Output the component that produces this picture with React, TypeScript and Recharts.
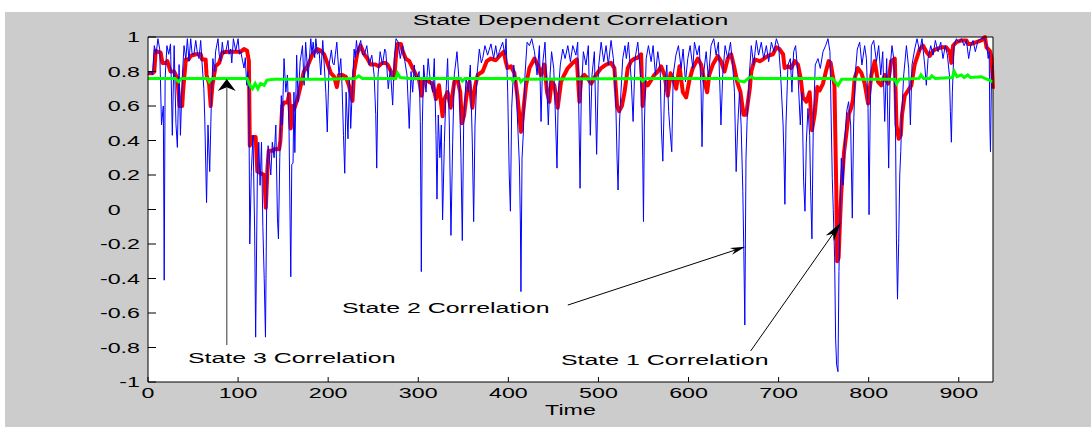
import React from 'react';
import { LineChart, Line, XAxis, YAxis, CartesianGrid, ReferenceLine } from 'recharts';

// ---------- data (time, correlation) ----------
const xTicks = [0, 100, 200, 300, 400, 500, 600, 700, 800, 900];
const yTicks = [-1, -0.8, -0.6, -0.4, -0.2, 0, 0.2, 0.4, 0.6, 0.8, 1];

// State 1 (blue, thin, noisy)
const state1: [number, number][] = [
  [0,0.78],[3,0.8],[5,0.78],[7,0.95],[9,0.9],[11,0.99],[13,0.93],[15,0.49],[17,0.6],[18,-0.41],[19,0.76],[21,0.95],[23,0.9],[25,0.96],[27,0.43],[29,0.95],[31,0.5],[32.6,0.36],[34.5,0.84],[36,0.43],[38,0.76],[40,0.95],[42,0.87],[43.7,0.99],[45.5,0.86],[47.4,0.99],[49,0.9],[51,0.9],[53,0.98],[55,0.9],[56.6,0.875],[58.5,0.98],[60,0.85],[62,0.7],[63,0.53],[65,0.04],[66.6,0.49],[68.5,0.22],[70.3,0.62],[72,0.875],[74,0.8],[75,0.915],[77.7,0.99],[79,0.9],[80.7,0.86],[82.5,0.97],[84,0.9],[86.3,0.915],[88.8,0.98],[90,0.9],[91.8,0.93],[93,0.85],[94.8,0.99],[97.4,0.92],[100,0.99],[101.5,0.9],[103,0.915],[105,0.86],[106.6,0.82],[108,0.88],[109.6,0.72],[111,0.8],[112,0.62],[113,-0.2],[114.7,0.22],[116.6,0.43],[118.4,-0.13],[119.5,-0.74],[121.4,0.2],[123,0.39],[124.4,0.14],[126,0.39],[127.5,-0.1],[129,-0.4],[130.4,-0.74],[131.9,0.14],[133.3,0.37],
  [134.8,0.297],[136.3,0.2],[138,0.39],[140,0.3],[141.9,0.49],[143.7,-0.05],[144.8,-0.17],[146.3,0.3],[148,0.66],[149,0.49],[151,0.875],[153,0.68],[154.8,0.78],[156.6,0.45],[157.8,-0.09],[158.5,-0.39],[159.6,0.26],[161,0.27],[162,0.68],[163,0.33],[165,0.895],[166.6,0.625],[168.9,0.857],[171.5,0.95],[173.3,0.72],[175,0.97],[177.7,0.76],[180.7,0.99],[182,0.9],[183.3,0.97],[185,0.88],[186.3,0.99],[188,0.9],[190,0.915],[191.8,0.78],[194,0.98],[195.5,0.85],[197.4,0.68],[199,0.45],[201,0.838],[203.6,0.925],[205,0.85],[206.6,0.838],[208,0.9],[209.6,0.97],[212,0.78],[214,0.875],[215.5,0.7],[217,0.43],[218.4,0.21],[219.9,0.68],[222,0.41],[223.6,0.76],[225,0.47],[227,0.72],[228.8,0.93],[230,0.88],[231.4,0.98],[233,0.9],[234.4,0.95],[236.2,0.98],[238,0.9],[240,0.895],[242.9,0.95],[245.5,0.838],[248.4,0.895],[251,0.78],[252.8,0.55],[253.9,0.24],[255.4,0.78],[257.7,0.915],[260.3,0.838],[262.8,0.93],
  [264,0.915],[266.7,0.7],[269,0.818],[271.6,0.605],[273.4,0.875],[275.3,0.99],[277.8,0.97],[280,0.875],[282.6,0.95],[285.2,0.857],[287.5,0.78],[290,0.47],[292,0.8],[293.8,0.68],[295.6,0.838],[297,0.75],[298.6,0.76],[301,0.8],[302.3,0.51],[303.4,-0.36],[304.5,0.49],[306,0.838],[308.6,0.68],[311,0.875],[313.4,0.74],[316,0.68],[317.8,0.875],[319.7,0.43],[320.8,0.06],[322.2,0.548],[324,0.3],[325.6,0.49],[327,-0.06],[329,0.39],[330.8,0.68],[332.6,0.875],[334.5,0.49],[336.3,-0.15],[338.2,0.39],[340,0.78],[343,0.915],[345.6,0.72],[347.4,0.3],[348.9,-0.18],[350.4,0.49],[353,0.76],[355.5,0.68],[357.8,0.838],[360,0.39],[361.5,-0.07],[363,0.49],[365.2,0.78],[367.8,0.93],[370,0.85],[371.5,0.875],[374,0.95],[377,0.895],[380.7,0.96],[383.7,0.875],[386,0.95],[388,0.88],[390,0.915],[393.7,0.97],[396.2,0.895],
  [397.5,0.99],[399.3,0.68],[401,0.2],[402.3,-0.01],[403.7,0.586],[406,0.838],[408.5,0.72],[410.4,0.49],[412.3,0.258],[413.4,-0.09],[414,-0.476],[415.2,0.297],[416.7,0.45],[418.5,0.78],[420.8,0.97],[423.4,0.95],[426,0.99],[429,0.915],[431.9,0.78],[434.5,0.95],[436.3,0.51],[438,0.838],[440.7,0.97],[443,0.68],[444.4,0.49],[446.3,0.78],[448,0.915],[450.4,0.818],[452.2,0.548],[454,0.24],[455.5,0.68],[457.7,0.838],[460.4,0.93],[463,0.875],[466,0.95],[468.9,0.857],[471.5,0.95],[475,0.895],[477,0.97],[478.5,0.49],[479.6,0.123],[481,0.68],[483.3,0.915],[486.2,0.838],[488.8,0.95],[491,0.43],[492.9,0.78],[495.5,0.915],[498,0.32],[500,0.818],[503,0.97],[505.9,0.857],[508.5,0.95],[511,0.838],[514,0.98],[516.6,0.875],[519,0.68],[520.7,0.297],[521.8,0.113],[523.3,0.49],[525,0.68],[527,0.875],[529.5,0.95],
  [531,0.875],[533.3,0.97],[536.3,0.76],[538.5,0.51],[540.7,0.875],[543.7,0.97],[545.9,0.838],[548,0.68],[549.2,0.297],[550,-0.07],[551,0.49],[553,0.875],[555.5,0.95],[558.5,0.857],[560.7,0.95],[563.3,0.78],[565.9,0.915],[568.5,0.818],[570,0.45],[571.5,0.28],[573.3,0.68],[575.9,0.838],[578,0.567],[579.6,0.45],[581.4,0.335],[583,0.78],[586,0.895],[588.8,0.95],[591.8,0.818],[594,0.93],[596.6,0.74],[599.2,0.875],[601.8,0.95],[604.8,0.818],[606.6,0.97],[609.6,0.895],[612,0.95],[614,0.68],[615,0.364],[616.6,0.78],[619.6,0.915],[622.1,0.76],[625,0.95],[628,0.99],[630.6,0.895],[633.2,0.97],[635,0.68],[636,0.49],[638,0.78],[640.6,0.95],[643.6,0.875],[646.6,0.97],[649,0.838],[651,0.68],[652.9,0.22],[654.7,0.49],[656.6,0.68],[658.4,0.49],[660.3,0.103],[661.4,-0.245],[662.5,-0.67],[663.8,0.297],[665,0.51],[667.5,0.78],
  [669.7,0.95],[672.3,0.838],[675.3,0.98],[677.8,0.895],[680.8,0.97],[683.4,0.875],[686.4,0.95],[689,0.857],[692,0.97],[694.9,0.915],[697.5,0.99],[700,0.95],[702.3,0.78],[705,0.49],[706,0.297],[707,0.03],[708.2,0.49],[710.4,0.838],[713,0.875],[714.8,0.68],[716.7,0.915],[718.9,0.95],[721.5,0.78],[724.1,0.49],[726,0.68],[727.8,0.16],[729.3,-0.01],[730.8,0.39],[732.6,0.586],[734.5,0.43],[735.6,0.103],[737,-0.17],[738.5,0.49],[740.7,0.838],[743.7,0.875],[746.3,0.818],[749.3,0.915],[752.2,0.95],[754.8,0.99],[757,0.915],[758.5,0.49],[759.6,0.18],[760.7,0],[762.2,-0.28],[763.3,-0.75],[764.4,-0.9],[765.9,-0.94],[767,-0.36],[768.1,-0.05],[769.6,0.297],[771.5,0.142],[773.3,0.39],[775.5,0.567],[777.7,0.625],[780,0.49],[781.8,-0.05],[783.3,0.49],[785,0.78],[787.4,0.93],[790,0.97],[792.5,0.838],[795.5,0.95],
  [797.5,0.875],[799.3,0.586],[800.4,-0.03],[801.5,0.49],[803,0.95],[805.6,0.98],[808.6,0.857],[811.1,0.95],[813.4,0.78],[815.6,0.915],[817.8,0.51],[820,0.875],[822.2,0.24],[824,0.838],[825.9,0.95],[827.8,0.875],[829.6,0.586],[830.8,-0.17],[832,-0.52],[833.3,-0.19],[834.5,0.2],[835.6,0.335],[837,0.586],[838.9,0.78],[841.9,0.95],[844.4,0.818],[846.3,0.49],[848.1,0.838],[851.1,0.93],[853.7,0.99],[856.6,0.915],[859.2,0.99],[862.2,0.838],[864,0.72],[865.9,0.875],[868.9,0.95],[871.5,0.895],[874,0.98],[877,0.915],[880,0.97],[882.5,0.875],[885.1,0.95],[887.4,0.895],[889.6,0.78],[890.7,0.567],[891.8,0.39],[892.9,0.68],[894.8,0.95],[897.4,0.99],[900,0.97],[903,0.99],[905.9,0.95],[908.5,0.98],[911,0.875],[913.3,0.95],[915.9,0.98],[918.4,0.915],[921.4,0.98],[925,0.99],[928.8,0.99],[931,0.95],[932.7,0.875],[933.8,0.915],[934.5,0.49],[935.2,0.335],[936.3,0.76],[937.4,0.838],
];

// State 2 (red, thick)
const state2: [number, number][] = [
  [0,0.79],[5,0.79],[7,0.8],[8.5,0.92],[14,0.91],[16,0.85],[20,0.85],[21.5,0.86],[25,0.8],[29,0.8],[32.6,0.76],[35,0.6],[38,0.6],[39,0.69],[42,0.87],[45,0.87],[47.4,0.89],[53,0.9],[58.5,0.9],[60,0.87],[64,0.87],[65,0.78],[67.8,0.73],[69.6,0.6],[71.5,0.72],[75,0.83],[79,0.85],[82.5,0.91],[88,0.915],[103,0.915],[106.6,0.93],[110,0.92],[112,0.86],[113,0.37],[116,0.42],[119.5,0.42],[121.4,0.22],[129,0.2],[130.8,0.01],[132.6,0.24],[134,0.34],[138,0.34],[140,0.35],[145.6,0.35],[147,0.4],[149,0.6],[151,0.62],[155,0.62],[156.6,0.67],[158.5,0.47],[160,0.6],[162,0.58],[166,0.64],[169.6,0.72],[173,0.8],[177,0.83],[182.6,0.9],[188,0.93],[192,0.92],[195.5,0.9],[199,0.85],[203,0.79],[206.6,0.77],[209.6,0.71],[212,0.78],[215.8,0.78],[219.6,0.77],[223,0.72],[227,0.63],[228.8,0.8],[232.5,0.91],[236,0.95],[240,0.9],[243.6,0.875],[247,0.84],[252.8,0.84],[256,0.83],[260,0.85],[264,0.85],[266,0.84],[269.7,0.8],[273.4,0.76],[275,0.875],[277,0.96],[280.8,0.96],[282.6,0.92],[286,0.875],[290,0.86],[293.7,0.82],[297.5,0.78],[301,0.75],[303.7,0.66],[306,0.76],[308.5,0.75],[312,0.74],[316,0.73],[319.7,0.64],[323,0.72],[327,0.54],[329,0.64],[332.6,0.68],[336,0.59],[340,0.74],[343.7,0.75],[346.6,0.68],[348.5,0.5],[351,0.55],[354,0.68],[356.7,0.74],[360,0.59],[363,0.71],[366,0.78],[371.5,0.8],[376,0.86],[380.7,0.875],[386,0.865],[392,0.9],[395,0.915],[397,0.86],[399,0.82],
  [403,0.83],[406.7,0.79],[410,0.66],[414,0.45],[417,0.59],[419.6,0.72],[423.4,0.82],[429,0.875],[432.6,0.84],[436,0.78],[440,0.84],[443,0.68],[445.6,0.625],[448,0.74],[451,0.72],[454.8,0.59],[458.5,0.74],[462,0.78],[466,0.82],[471.5,0.85],[476,0.87],[478.9,0.625],[480.7,0.76],[484.4,0.78],[488,0.76],[492,0.73],[497.3,0.78],[503,0.82],[508.5,0.84],[514,0.85],[517.7,0.82],[520.7,0.6],[523,0.57],[526,0.6],[529,0.68],[532.6,0.82],[536.3,0.86],[540,0.875],[543.7,0.88],[547.4,0.9],[549,0.6],[551.8,0.74],[554.8,0.72],[558.5,0.75],[562,0.78],[565.9,0.8],[569.6,0.83],[573.3,0.78],[577,0.66],[580,0.79],[582.6,0.76],[586.3,0.7],[590,0.83],[593.7,0.68],[597.4,0.65],[601,0.75],[604.8,0.82],[610.3,0.875],[614,0.84],[617.7,0.74],[620.7,0.68],[623,0.78],[627,0.84],[632.5,0.89],[636,0.86],[640,0.8],[643.6,0.875],[647.3,0.9],[651,0.82],[654,0.74],[657.7,0.68],[661,0.55],[664,0.55],[668,0.7],[669.7,0.8],[673.4,0.87],[679,0.86],[682.6,0.87],[688,0.89],[693.7,0.9],[697.5,0.94],[701,0.93],[705,0.9],[706.7,0.82],[710.4,0.83],[714,0.82],[717.8,0.86],[721.5,0.84],[724.5,0.76],[727,0.65],[730.8,0.625],[734.5,0.68],[737,0.46],[740,0.55],[743,0.71],[745.6,0.69],[749.3,0.73],[753,0.81],[755.5,0.86],[757.8,0.85],[760,0.78],[762,0.72],[764,0.12],[765,-0.3],[766.6,-0.28],[768,-0.09],[769.6,0.1],[772.6,0.33],[775,0.43],[777.7,0.55],[780.7,0.59],[782.6,0.64],[784.4,0.76],[788,0.82],[792,0.79],[795.6,0.73],[799.3,0.615],[803,0.78],[806.7,0.86],[810.4,0.74],[814,0.72],[817.8,0.78],[821.5,0.73],[825,0.86],[829,0.875],[830.8,0.49],[833.3,0.41],[835.6,0.43],[837,0.55],[840,0.66],[843.7,0.69],[847.4,0.72],[851,0.84],[856.7,0.93],[860.4,0.95],[864,0.915],[867.8,0.89],[871.5,0.92],[875,0.93],[880.7,0.94],[886,0.94],[890,0.915],[891.8,0.85],[893.7,0.95],[897.4,0.97],[903,0.98],[908.5,0.98],[910.3,0.96],[914,0.96],[919.6,0.97],[925,0.98],[929,1.0],[930.8,0.94],[934.5,0.92],[936.5,0.875],[938,0.7],
];

// State 3 (green)
const state3: [number, number][] = [
  [0,0.76],[30,0.76],[34,0.74],[37,0.76],[66,0.76],[68,0.74],[71,0.76],[110,0.76],[113,0.72],[116,0.7],[119,0.73],[122,0.7],[125,0.73],[129,0.72],[132,0.75],[140,0.755],[200,0.755],[230,0.76],[234,0.775],[238,0.76],[275,0.76],[277,0.79],[280,0.765],[290,0.76],[347,0.76],[349,0.745],[352,0.76],[403,0.76],[405,0.745],[407,0.76],[412,0.76],[414,0.74],[417,0.755],[547,0.76],[549,0.745],[552,0.76],[654,0.76],[656,0.745],[662,0.74],[666,0.76],[670,0.77],[673,0.76],[760,0.76],[766,0.72],[770,0.755],[829,0.755],[831,0.73],[834,0.755],[856,0.76],[858,0.78],[861,0.76],[868,0.76],[870,0.775],[874,0.76],[893,0.765],[895,0.8],[898,0.77],[903,0.78],[906,0.765],[910,0.78],[913,0.765],[925,0.77],[938,0.74],
];

// annotation arrows: [fromT, fromV, toT, toV]
const arrowState3 = [87.4, -0.786, 87.4, 0.757];
const arrowState2 = [466, -0.554, 663, -0.216];
const arrowState1 = [669, -0.82, 769, -0.077];

const toRows = (arr: [number, number][]) => arr.map(([t, v]) => ({ t, v }));

const FONT = "'Liberation Sans', Arial, Helvetica, sans-serif";
const SX = 1.66;

const YTick = (props: any) => {
  const { x, y, payload } = props;
  const v = payload.value;
  const shift = v === 0 ? 19.4 : 0;
  return (
    <text transform={`translate(${x - shift},${y}) scale(${SX},1)`} textAnchor="end" dy="0.36em"
      fontSize={14} fontFamily={FONT} fill="#000">{String(v)}</text>
  );
};
const XTick = (props: any) => {
  const { x, y, payload } = props;
  return (
    <text transform={`translate(${x},${y}) scale(${SX},1)`} textAnchor="middle" dy="0.72em"
      fontSize={14} fontFamily={FONT} fill="#000">{String(payload.value)}</text>
  );
};
const NoTick = () => <g />;

function makeArrow(lineColor: string, lineWidth: number, headLen: number, headWid: number) {
  return (props: any) => {
    const { x1, y1, x2, y2 } = props;
    const dx = x2 - x1, dy = y2 - y1;
    const len = Math.hypot(dx, dy) || 1;
    const ux = dx / len, uy = dy / len;
    const nx = -uy, ny = ux;
    const bx = x2 - ux * headLen, by = y2 - uy * headLen;
    const mx = x2 - ux * headLen * 0.7, my = y2 - uy * headLen * 0.7;
    const pts = `${x2},${y2} ${bx + nx * headWid / 2},${by + ny * headWid / 2} ${mx},${my} ${bx - nx * headWid / 2},${by - ny * headWid / 2}`;
    return (
      <g>
        <line x1={x1} y1={y1} x2={mx} y2={my} stroke={lineColor} strokeWidth={lineWidth} />
        <polygon points={pts} fill="#000" />
      </g>
    );
  };
}

const seg = (a: number[]) => [{ x: a[0], y: a[1] }, { x: a[2], y: a[3] }];

const Label = ({ x, y, text, anchor = 'start', size = 15 }: any) => (
  <text transform={`translate(${x},${y}) scale(${SX},1)`} textAnchor={anchor} fontSize={size}
    fontFamily={FONT} fill="#000">{text}</text>
);

export default function App() {
  const axisStroke = { stroke: '#000', strokeWidth: 1 };
  return (
    <div style={{ position: 'absolute', left: 0, top: 0, width: 1091, height: 427, background: '#fff', overflow: 'hidden' }}>
      <div style={{ position: 'absolute', left: 5, top: 12, width: 1086, height: 415, background: '#cccccc' }} />
      <div style={{ position: 'absolute', left: 0, top: 0 }}>
        <LineChart width={1091} height={427} margin={{ top: 27, right: 88, bottom: 15, left: 88 }}>
          <CartesianGrid horizontal={false} vertical={false} fill="#ffffff" />
          <XAxis type="number" dataKey="t" domain={[0, 938]} ticks={xTicks} interval={0} height={30}
            axisLine={axisStroke} tickLine={axisStroke} tickSize={-5} tickMargin={11} tick={<XTick />} />
          <XAxis xAxisId="top" orientation="top" type="number" dataKey="t" domain={[0, 938]} ticks={xTicks} interval={0} height={10}
            axisLine={axisStroke} tickLine={axisStroke} tickSize={-5} tick={<NoTick />} />
          <YAxis type="number" domain={[-1, 1]} ticks={yTicks} interval={0} width={60}
            axisLine={axisStroke} tickLine={axisStroke} tickSize={-8} tickMargin={16} tick={<YTick />} />
          <YAxis yAxisId="right" orientation="right" type="number" domain={[-1, 1]} ticks={yTicks} interval={0} width={10}
            axisLine={axisStroke} tickLine={axisStroke} tickSize={-8} tick={<NoTick />} />
          <Line data={toRows(state2)} dataKey="v" type="linear" stroke="#ff0000" strokeWidth={4} dot={false}
            isAnimationActive={false} strokeLinejoin="round" />
          <Line data={toRows(state1)} dataKey="v" type="linear" stroke="#0000ff" strokeWidth={1} dot={false}
            isAnimationActive={false} />
          <Line data={toRows(state3)} dataKey="v" type="linear" stroke="#00ff00" strokeWidth={3} dot={false}
            isAnimationActive={false} />
          <ReferenceLine segment={seg(arrowState3)} ifOverflow="visible" shape={makeArrow('#777', 1.5, 12, 18)} />
          <ReferenceLine segment={seg(arrowState2)} ifOverflow="visible" shape={makeArrow('#000', 1, 15, 7)} />
          <ReferenceLine segment={seg(arrowState1)} ifOverflow="visible" shape={makeArrow('#000', 1, 19, 10)} />
        </LineChart>
      </div>
      <svg width={1091} height={427} style={{ position: 'absolute', left: 0, top: 0, pointerEvents: 'none' }}>
        <Label x={570.5} y={25} text="State Dependent Correlation" anchor="middle" />
        <Label x={570.5} y={415} text="Time" anchor="middle" size={14} />
        <Label x={342} y={313} text="State 2 Correlation" />
        <Label x={188} y={363} text="State 3 Correlation" />
        <Label x={561} y={365} text="State 1 Correlation" />
      </svg>
    </div>
  );
}
